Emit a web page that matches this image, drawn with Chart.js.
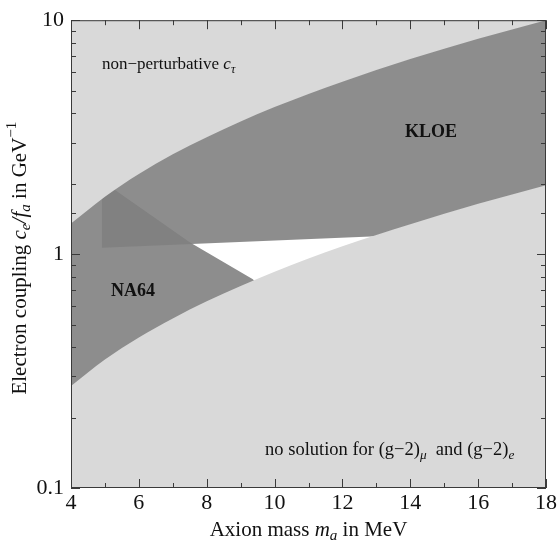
<!DOCTYPE html>
<html>
<head>
<meta charset="utf-8">
<script src="https://cdn.jsdelivr.net/npm/chart.js@4.4.1/dist/chart.umd.min.js"></script>
<style>
html,body{margin:0;padding:0;background:#fff;}
</style>
</head>
<body>
<canvas id="grafico" width="559" height="546"></canvas>
<script>
// ==============================
// DATOS
// ==============================

// borde superior: non-perturbative c_tau
const masaSup = [4, 5, 6, 7, 8, 9, 10, 12, 14, 16, 18];
const acopleSup = [1.35, 1.76, 2.2, 2.67, 3.16, 3.69, 4.25, 5.46, 6.82, 8.33, 10.0];

// borde inferior: no solution (g-2)
const masaInf = [4, 5, 6, 7, 8, 9, 10, 12, 14, 16, 18];
const acopleInf = [0.273, 0.354, 0.44, 0.531, 0.628, 0.731, 0.84, 1.08, 1.34, 1.64, 1.97];

// limite KLOE (excluido por encima)
const masaKloe = [4.91, 12.66, 18];
const acopleKloe = [1.065, 1.186, 1.28];

// limite NA64 (excluido por debajo)
const masaNa64 = [4, 5.36, 7.51, 9.36, 10];
const acopleNa64 = [2.55, 1.85, 1.12, 0.78, 0.6];

const ticksX = [4, 6, 8, 10, 12, 14, 16, 18];
const ticksY = [0.1, 1, 10];

const FUENTE = "'Liberation Serif', 'DejaVu Serif', serif";

function puntos(xs, ys){
  return xs.map((x, i) => ({x: x, y: ys[i]}));
}

// ==============================
// TEXTO CON SUBINDICES
// ==============================

function fuenteDe(estilo, tam){
  let t = estilo.includes("sub") || estilo.includes("sup") ? tam * 0.72 : tam;
  let s = estilo.startsWith("i") ? "italic " : "";
  let b = estilo.startsWith("b") ? "bold " : "";
  return s + b + t + "px " + FUENTE;
}

function anchoTexto(ctx, partes, tam){
  let w = 0;
  partes.forEach(p => { ctx.font = fuenteDe(p[1], tam); w += ctx.measureText(p[0]).width; });
  return w;
}

function dibujarTexto(ctx, partes, x, y, tam, alinear){
  let w = anchoTexto(ctx, partes, tam);
  let cx = alinear === "center" ? x - w / 2 : x;
  ctx.textBaseline = "middle";
  ctx.textAlign = "left";
  partes.forEach(p => {
    ctx.font = fuenteDe(p[1], tam);
    let dy = 0;
    if(p[1].includes("sub")) dy = tam * 0.3;
    if(p[1].includes("sup")) dy = -tam * 0.38;
    ctx.fillText(p[0], cx, y + dy);
    cx += ctx.measureText(p[0]).width;
  });
}

const tituloX = [["Axion mass ", "n"], ["m", "i"], ["a", "i-sub"], [" in MeV", "n"]];
const tituloY = [["Electron coupling ", "n"], ["c", "i"], ["e", "i-sub"], ["/", "i"], ["f", "i"], ["a", "i-sub"], [" in GeV", "n"], ["\u22121", "sup"]];

const etiquetas = [
  {partes: [["non\u2212perturbative ", "n"], ["c", "i"], ["\u03c4", "i-sub"]], x: 4.91, y: 6.45, tam: 17, alinear: "left"},
  {partes: [["KLOE", "b"]], x: 14.61, y: 3.33, tam: 18, alinear: "center"},
  {partes: [["NA64", "b"]], x: 5.83, y: 0.694, tam: 18, alinear: "center"},
  {partes: [["no solution for (g\u22122)", "n"], ["\u03bc", "i-sub"], ["  and (g\u22122)", "n"], ["e", "i-sub"]], x: 9.72, y: 0.145, tam: 18.5, alinear: "left"}
];

// ==============================
// PLUGIN: MARCO, TICKS Y TEXTOS
// ==============================

const marco = {
  id: "marco",
  afterDatasetsDraw(chart){
    const {ctx, chartArea: a, scales: {x, y}} = chart;
    ctx.save();
    ctx.strokeStyle = "#3a3a3a";
    ctx.lineWidth = 1;

    x.ticks.forEach(t => {
      const px = Math.round(x.getPixelForValue(t.value)) + 0.5;
      const L = ticksX.includes(t.value) ? 9 : 5;
      ctx.beginPath();
      ctx.moveTo(px, a.bottom); ctx.lineTo(px, a.bottom - L);
      ctx.moveTo(px, a.top); ctx.lineTo(px, a.top + L);
      ctx.stroke();
    });

    y.ticks.forEach(t => {
      const py = Math.round(y.getPixelForValue(t.value)) + 0.5;
      const lg = Math.log10(t.value);
      const L = Math.abs(lg - Math.round(lg)) < 1e-6 ? 9 : 5;
      ctx.beginPath();
      ctx.moveTo(a.left, py); ctx.lineTo(a.left + L, py);
      ctx.moveTo(a.right, py); ctx.lineTo(a.right - L, py);
      ctx.stroke();
    });

    ctx.strokeRect(a.left + 0.5, a.top + 0.5, a.right - a.left - 1, a.bottom - a.top - 1);

    ctx.fillStyle = "#111";
    etiquetas.forEach(e => {
      dibujarTexto(ctx, e.partes, x.getPixelForValue(e.x), y.getPixelForValue(e.y), e.tam, e.alinear);
    });

    // titulos de ejes
    dibujarTexto(ctx, tituloX, (a.left + a.right) / 2, 530, 21, "center");
    ctx.translate(20, (a.top + a.bottom) / 2 + 4);
    ctx.rotate(-Math.PI / 2);
    dibujarTexto(ctx, tituloY, 0, 0, 21, "center");
    ctx.restore();
  }
};

// ==============================
// GRAFICO
// ==============================

const ctxGrafico = document.getElementById("grafico").getContext("2d");

let grafico = new Chart(ctxGrafico, {

type: "line",

data: {
datasets: [
{
label: "no solution",
data: puntos(masaInf, acopleInf),
fill: "start",
backgroundColor: "#d9d9d9",
borderColor: "rgba(0,0,0,0)",
cubicInterpolationMode: "monotone",
pointRadius: 0,
order: 1
},
{
label: "non-perturbative",
data: puntos(masaSup, acopleSup),
fill: "end",
backgroundColor: "#d9d9d9",
borderColor: "rgba(0,0,0,0)",
cubicInterpolationMode: "monotone",
pointRadius: 0,
order: 2
},
{
label: "KLOE",
data: puntos(masaKloe, acopleKloe),
fill: "end",
backgroundColor: "rgba(128,128,128,0.895)",
borderColor: "rgba(0,0,0,0)",
tension: 0,
pointRadius: 0,
order: 3
},
{
label: "NA64",
data: puntos(masaNa64, acopleNa64),
fill: "start",
backgroundColor: "#8d8d8d",
borderColor: "rgba(0,0,0,0)",
tension: 0,
pointRadius: 0,
order: 4
}
]
},

options: {
responsive: false,
animation: false,
layout: { padding: { top: 15, right: 13, left: 0, bottom: 0 } },
plugins: {
legend: { display: false },
tooltip: { enabled: false }
},
scales: {
x: {
type: "linear",
min: 4,
max: 18,
grid: { display: false, drawTicks: false },
border: { display: false },
ticks: {
stepSize: 1,
autoSkip: false,
maxRotation: 0,
padding: 2,
color: "#111",
font: { family: FUENTE, size: 22 },
callback: v => ticksX.includes(v) ? String(v) : ""
},
afterFit: s => { s.height = 58; }
},
y: {
type: "logarithmic",
min: 0.1,
max: 10,
grid: { display: false, drawTicks: false },
border: { display: false },
ticks: {
autoSkip: false,
padding: 7,
color: "#111",
font: { family: FUENTE, size: 22 },
callback: v => ticksY.some(t => Math.abs(t - v) < 1e-9) ? String(v) : ""
},
afterFit: s => { s.width = 71; }
}
}
},

plugins: [marco]

});
</script>
</body>
</html>
